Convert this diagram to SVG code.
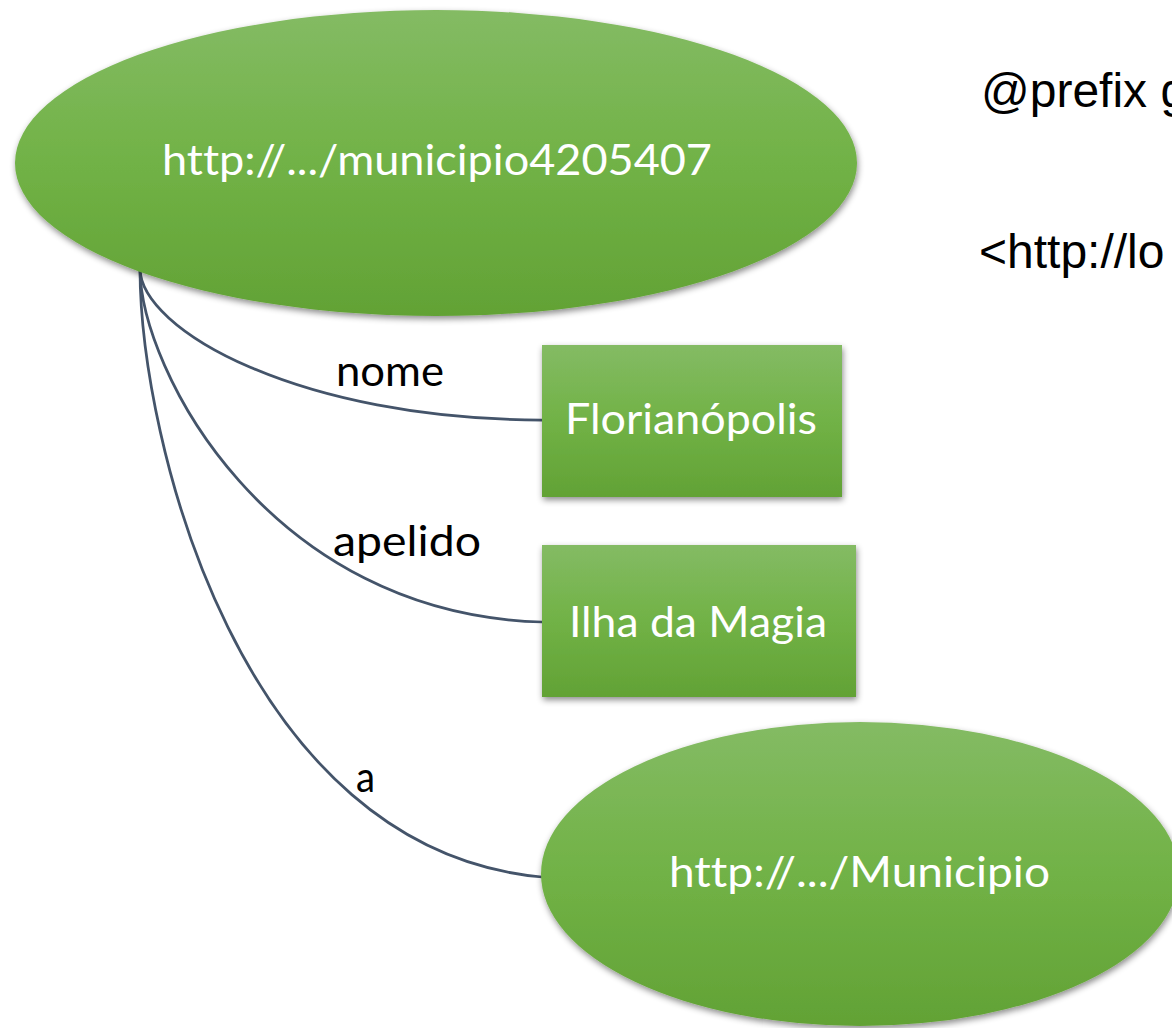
<svg xmlns="http://www.w3.org/2000/svg" width="1172" height="1028" viewBox="0 0 1172 1028">
  <defs>
    <linearGradient id="greenFill" x1="0" y1="0" x2="0" y2="1">
      <stop offset="0" stop-color="#84BB64"/>
      <stop offset="0.5" stop-color="#71B246"/>
      <stop offset="1" stop-color="#62A235"/>
    </linearGradient>
    <filter id="shadow" x="-10%" y="-10%" width="120%" height="130%">
      <feDropShadow dx="1" dy="3" stdDeviation="3" flood-color="#000" flood-opacity="0.45"/>
    </filter>
  </defs>
  <style>
    .shape { fill: url(#greenFill); filter: url(#shadow); }
    .node-text { font-family: Lato, "Open Sans", "Liberation Sans", sans-serif; font-size: 42px; fill: #FFFFFF; font-variant-ligatures: none; }
    .edge { fill: none; stroke: #44546A; stroke-width: 2.75; }
    .edge-label { font-family: Lato, "Open Sans", "Liberation Sans", sans-serif; font-size: 43px; fill: #000000; font-variant-ligatures: none; }
    .code { font-family: "Liberation Sans", Arial, sans-serif; font-size: 48px; fill: #000000; }
  </style>

  <rect width="1172" height="1028" fill="#FFFFFF"/>

  <!-- edges from the municipality resource -->
  <g id="connectors">
    <path class="edge" d="M140,268 C140,330 300,420 542,420"/>
    <path class="edge" d="M140,268 C140,370 270,615 542,622"/>
    <path class="edge" d="M140,268 C140,440 240,850 542,877"/>
    <text class="edge-label" x="336" y="386" textLength="108" lengthAdjust="spacingAndGlyphs">nome</text>
    <text class="edge-label" x="333" y="556" textLength="148" lengthAdjust="spacingAndGlyphs">apelido</text>
    <text class="edge-label" x="356" y="792" textLength="19" lengthAdjust="spacingAndGlyphs">a</text>
  </g>

  <g id="node-municipio4205407">
    <ellipse class="shape" cx="436" cy="163" rx="421" ry="153"/>
    <text class="node-text" x="162" y="175" textLength="550" lengthAdjust="spacingAndGlyphs">http://.../municipio4205407</text>
  </g>

  <g id="node-florianopolis">
    <rect class="shape" x="542" y="345" width="300" height="152"/>
    <text class="node-text" x="565" y="434" textLength="252" lengthAdjust="spacingAndGlyphs">Florianópolis</text>
  </g>

  <g id="node-ilha-da-magia">
    <rect class="shape" x="542" y="545" width="314" height="152"/>
    <text class="node-text" x="569" y="637" textLength="258" lengthAdjust="spacingAndGlyphs">Ilha da Magia</text>
  </g>

  <g id="node-municipio-class">
    <ellipse class="shape" cx="860" cy="874" rx="319" ry="152"/>
    <text class="node-text" x="669" y="887" textLength="381" lengthAdjust="spacingAndGlyphs">http://.../Municipio</text>
  </g>

  <!-- Turtle snippet on the right -->
  <g id="turtle">
    <text class="code" x="981" y="107">@prefix g</text>
    <text class="code" x="979" y="268">&lt;http://lo</text>
  </g>
</svg>
